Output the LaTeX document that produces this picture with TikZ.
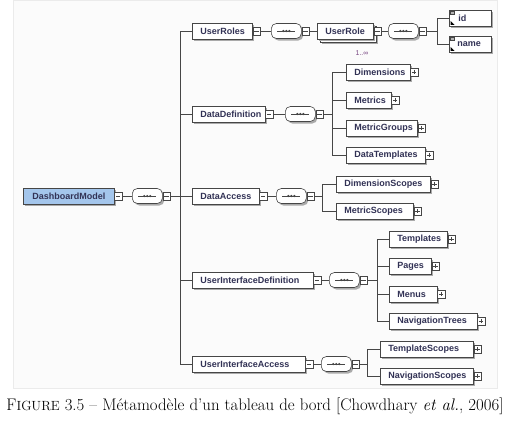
\documentclass[tikz,border=0pt]{standalone}
\usepackage{fontspec}
\newfontfamily\elfont{Liberation Sans}
\usetikzlibrary{shadows,calc}
\definecolor{txt}{RGB}{50,50,85}
\definecolor{bord}{RGB}{70,70,70}
\definecolor{shad}{RGB}{170,170,170}
\definecolor{dmfill}{RGB}{164,198,236}
\definecolor{panel}{RGB}{251,251,251}
\definecolor{panelline}{RGB}{235,235,235}
\definecolor{card}{RGB}{120,70,130}
\begin{document}
\begin{tikzpicture}[x=1pt,y=-1pt,
  el/.style={draw=bord, fill=white, line width=0.6pt, anchor=west, inner xsep=0pt, inner ysep=0pt,
    minimum height=16pt, align=left, font=\elfont\bfseries\fontsize{9}{10}\selectfont, text=txt,
    drop shadow={shadow xshift=2pt, shadow yshift=-2pt, fill=shad, opacity=1}},
  icon/.style={draw=bord, fill=white, line width=0.5pt, minimum size=7.5pt, inner sep=0pt, rectangle, anchor=west},
  minusic/.style={icon, path picture={\draw[line width=0.5pt,bord] ([xshift=1.5pt]path picture bounding box.west) -- ([xshift=-1.5pt]path picture bounding box.east);}},
  plusic/.style={icon, path picture={\draw[line width=0.5pt,bord] ([xshift=1.5pt]path picture bounding box.west) -- ([xshift=-1.5pt]path picture bounding box.east);
     \draw[line width=0.5pt,bord] ([yshift=-1.5pt]path picture bounding box.north) -- ([yshift=1.5pt]path picture bounding box.south);}},
  seq/.style={draw=bord, fill=white, line width=0.6pt, rounded corners=5pt, minimum width=30pt, minimum height=15pt,
    inner sep=0pt, anchor=west, drop shadow={shadow xshift=2pt, shadow yshift=-2pt, fill=shad, opacity=1},
    path picture={\draw[line width=0.7pt,bord] ([xshift=-9pt]path picture bounding box.center) -- ([xshift=9pt]path picture bounding box.center);
      \fill[bord] (path picture bounding box.center) circle (1.2pt);
      \fill[bord] ([xshift=-3pt]path picture bounding box.center) circle (1.2pt);
      \fill[bord] ([xshift=3pt]path picture bounding box.center) circle (1.2pt);}},
  conn/.style={draw=bord, line width=0.6pt}
]
\useasboundingbox (0,0) rectangle (513,431);
\fill[panel, draw=panelline] (13,0) rectangle (497,388);

% root
\node[el, fill=dmfill, text width=90.5pt] (dm) at (23,196) {\hspace*{9pt}DashboardModel};
\node[minusic] (dmI) at (dm.east) {};
\node[seq] (s0) at (132,196) {};
\node[minusic] (s0I) at (s0.east) {};
\coordinate (t0) at (180,196);

% level 1
\node[el, text width=60pt] (ur) at (192,31) {\hspace*{8pt}UserRoles};
\node[minusic] (urI) at (ur.east) {};
\node[el, text width=72.5pt] (dd) at (192,114) {\hspace*{8pt}DataDefinition};
\node[minusic] (ddI) at (dd.east) {};
\node[el, text width=66.5pt] (da) at (192,196) {\hspace*{8pt}DataAccess};
\node[minusic] (daI) at (da.east) {};
\node[el, text width=120.5pt] (uid) at (192,280) {\hspace*{8pt}UserInterfaceDefinition};
\node[minusic] (uidI) at (uid.east) {};
\node[el, text width=112.5pt] (uia) at (192,364) {\hspace*{8pt}UserInterfaceAccess};
\node[minusic] (uiaI) at (uia.east) {};

% sequences level 1
\node[seq] (s1) at (271,31) {};
\node[minusic] (s1I) at (s1.east) {};
\node[seq] (s2) at (285,114) {};
\node[minusic] (s2I) at (s2.east) {};
\node[seq] (s3) at (276,196) {};
\node[minusic] (s3I) at (s3.east) {};
\node[seq] (s4) at (329,280) {};
\node[minusic] (s4I) at (s4.east) {};
\node[seq] (s5) at (321,364) {};
\node[minusic] (s5I) at (s5.east) {};

\coordinate (t2) at (332,114);
\coordinate (t3) at (322,196);
\coordinate (t4) at (377,280);
\coordinate (t5) at (367,364);

% UserRole
\node[el, text width=56pt] (roleb) at (320,34) {};
\node[el, text width=56pt] (role) at (317,31) {\hspace*{8pt}UserRole};
\node[minusic] (roleI) at (role.east) {};
\node[font=\elfont\fontsize{7}{8}\selectfont, text=card, inner sep=0pt] (card) at (362,53) {1..∞};
\node[seq] (s6) at (388,31) {};
\node[minusic] (s6I) at (s6.east) {};
\coordinate (t6) at (437,31);
\node[el, text width=42pt] (id) at (449,18) {\hspace*{9pt}id};
\node[el, text width=42pt] (nm) at (449,44) {\hspace*{8pt}name};
\foreach \n in {id,nm}{
  \fill[gray!60, draw=bord, line width=0.3pt] ([shift={(1.5,1.5)}]\n.north west) rectangle ++(4,3);
  \fill[black] ([shift={(1.5,-1.5)}]\n.south west) -- ++(4,0) -- ++(-4,-4) -- cycle;
}

% DataDefinition children
\node[el, text width=63.5pt] (dim) at (346,72) {\hspace*{8pt}Dimensions};
\node[plusic] (dimI) at (dim.east) {};
\node[el, text width=44.5pt] (met) at (346,100) {\hspace*{8pt}Metrics};
\node[plusic] (metI) at (met.east) {};
\node[el, text width=71pt] (mg) at (346,128) {\hspace*{8pt}MetricGroups};
\node[plusic] (mgI) at (mg.east) {};
\node[el, text width=78.5pt] (dt) at (346,155) {\hspace*{8pt}DataTemplates};
\node[plusic] (dtI) at (dt.east) {};

% DataAccess children
\node[el, text width=94pt] (ds) at (336,184) {\hspace*{8pt}DimensionScopes};
\node[plusic] (dsI) at (ds.east) {};
\node[el, text width=77pt] (ms) at (336,211) {\hspace*{8pt}MetricScopes};
\node[plusic] (msI) at (ms.east) {};

% UserInterfaceDefinition children
\node[el, text width=58pt] (tpl) at (389,239) {\hspace*{8pt}Templates};
\node[plusic] (tplI) at (tpl.east) {};
\node[el, text width=42pt] (pg) at (389,266) {\hspace*{8pt}Pages};
\node[plusic] (pgI) at (pg.east) {};
\node[el, text width=47.5pt] (mn) at (389,294) {\hspace*{8pt}Menus};
\node[plusic] (mnI) at (mn.east) {};
\node[el, text width=87.5pt] (nt) at (389,321) {\hspace*{8pt}NavigationTrees};
\node[plusic] (ntI) at (nt.east) {};

% UserInterfaceAccess children
\node[el, text width=93pt] (ts) at (380,349) {\hspace*{8pt}TemplateScopes};
\node[plusic] (tsI) at (ts.east) {};
\node[el, text width=93pt] (ns) at (380,376) {\hspace*{8pt}NavigationScopes};
\node[plusic] (nsI) at (ns.east) {};

% connectors
\draw[conn] (dmI.east) -- (s0.west);
\draw[conn] (s0I.east) -- (t0);
\foreach \c in {ur,dd,da,uid,uia}{\draw[conn] (t0) |- (\c.west);}
\draw[conn] (urI.east) -- (s1.west);
\draw[conn] (ddI.east) -- (s2.west);
\draw[conn] (daI.east) -- (s3.west);
\draw[conn] (uidI.east) -- (s4.west);
\draw[conn] (uiaI.east) -- (s5.west);
\draw[conn] (s1I.east) -- (role.west);
\draw[conn] (roleI.east) -- (s6.west);
\draw[conn] (s6I.east) -- (t6);
\foreach \c in {id,nm}{\draw[conn] (t6) |- (\c.west);}
\draw[conn] (s2I.east) -- (t2);
\foreach \c in {dim,met,mg,dt}{\draw[conn] (t2) |- (\c.west);}
\draw[conn] (s3I.east) -- (t3);
\foreach \c in {ds,ms}{\draw[conn] (t3) |- (\c.west);}
\draw[conn] (s4I.east) -- (t4);
\foreach \c in {tpl,pg,mn,nt}{\draw[conn] (t4) |- (\c.west);}
\draw[conn] (s5I.east) -- (t5);
\foreach \c in {ts,ns}{\draw[conn] (t5) |- (\c.west);}

% caption
\node[font=\fontsize{16.8}{19}\selectfont, inner sep=0pt] (cap) at (255,406)
  {F{\fontsize{13.3}{16}\selectfont IGURE} 3.5 -- Métamodèle d'un tableau de bord [Chowdhary \textit{et al.}, 2006]};
\end{tikzpicture}
\end{document}
